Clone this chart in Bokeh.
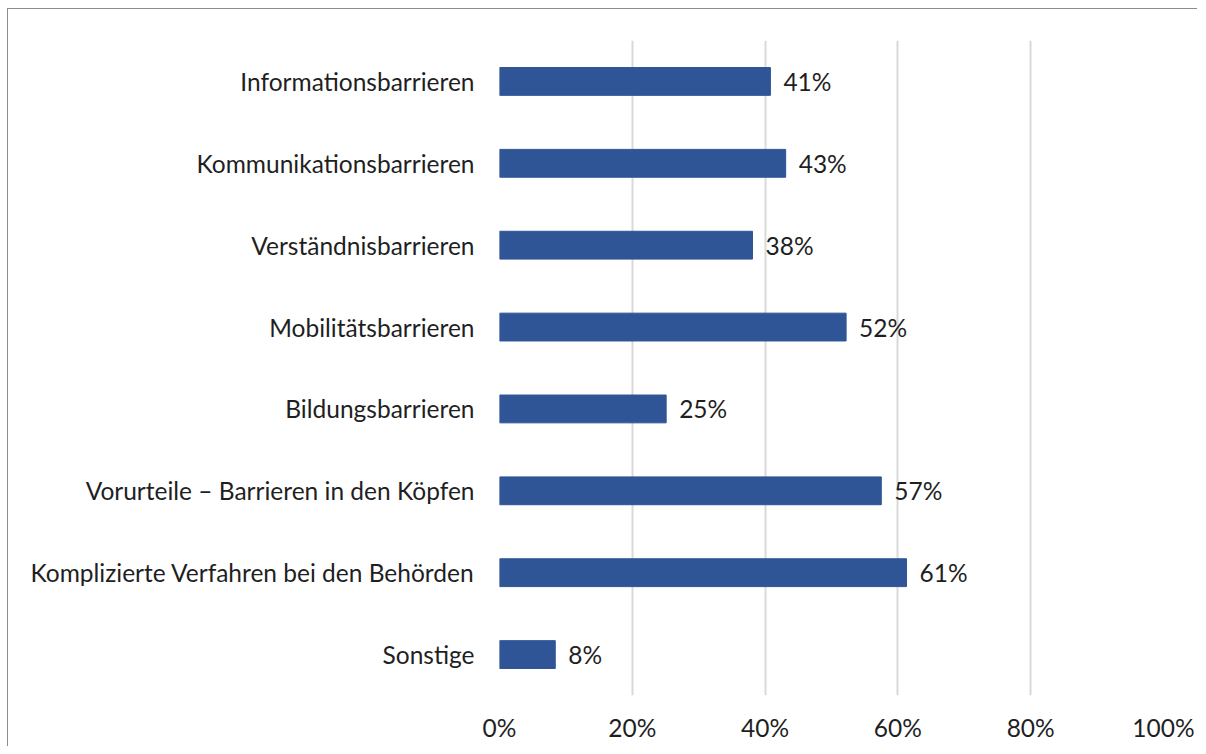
from bokeh.plotting import figure
from bokeh.models import ColumnDataSource, FactorRange, Range1d, FixedTicker
from bokeh.core.properties import value
from bokeh.embed import file_html
from bokeh.resources import INLINE

categories = [
    "Informationsbarrieren",
    "Kommunikationsbarrieren",
    "Verständnisbarrieren",
    "Mobilitätsbarrieren",
    "Bildungsbarrieren",
    "Vorurteile – Barrieren in den Köpfen",
    "Komplizierte Verfahren bei den Behörden",
    "Sonstige",
]
values = [40.8, 43.1, 38.1, 52.2, 25.1, 57.5, 61.3, 8.4]
labels = ["41%", "43%", "38%", "52%", "25%", "57%", "61%", "8%"]
x_ticks = [0, 20, 40, 60, 80, 100]
x_tick_labels = ["0%", "20%", "40%", "60%", "80%", "100%"]

FONT = "Lato"
FS = "24.5px"
TXT = "#1f1f1f"

src = ColumnDataSource(dict(cat=categories, val=values, lab=labels))

p = figure(
    width=1190, height=738,
    y_range=FactorRange(factors=list(reversed(categories))),
    x_range=Range1d(0, 100),
    output_backend="svg", toolbar_location=None,
    min_border_left=491, min_border_right=35,
    min_border_top=31, min_border_bottom=52,
)
p.styles = {"border-top": "1px solid #8c8c8c", "border-left": "1px solid #8c8c8c",
            "border-right": "0px none", "border-bottom": "0px none",
            "margin-left": "7px", "margin-top": "8px"}
p.outline_line_color = None
p.border_fill_color = "white"

p.hbar(y="cat", right="val", left=0, height=0.34, source=src,
       fill_color="#2F5597", line_color="#2F5597")
p.text(x="val", y="cat", text="lab", source=src, x_offset=13,
       text_baseline="middle", text_align="left",
       text_font=value(FONT), text_font_size=FS, text_color=TXT)

p.ygrid.grid_line_color = None
p.xgrid.grid_line_color = "#d9d9d9"
p.xgrid.grid_line_width = 2
p.xaxis.ticker = FixedTicker(ticks=x_ticks)
p.xaxis.major_label_overrides = {t: l for t, l in zip(x_ticks, x_tick_labels)}

for ax in (p.xaxis, p.yaxis):
    ax.axis_line_color = None
    ax.major_tick_line_color = None
    ax.minor_tick_line_color = None
    ax.major_label_text_font = FONT
    ax.major_label_text_font_size = FS
    ax.major_label_text_color = TXT
p.yaxis.major_label_standoff = 19
p.xaxis.major_label_standoff = 11

open("out.html", "w").write(file_html(p, INLINE))
